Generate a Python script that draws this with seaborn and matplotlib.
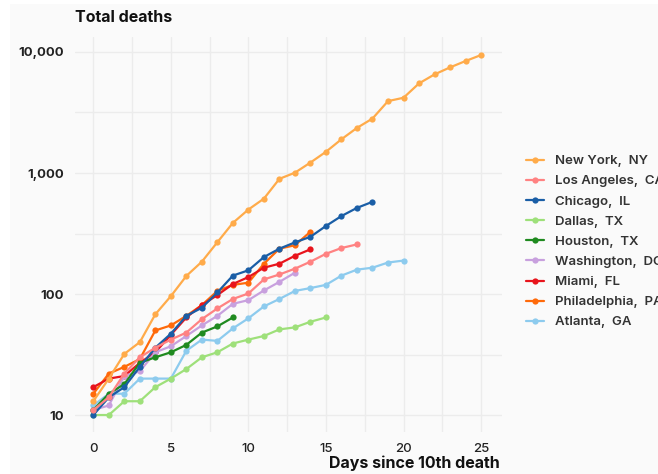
import numpy as np
import pandas as pd
import seaborn as sns
import matplotlib.pyplot as plt
from matplotlib.patches import Rectangle
from matplotlib.ticker import FixedLocator, FuncFormatter

# values (deaths by day since 10th death)
new_york = [13, 20, 32, 40, 68, 96, 141, 185, 268, 387, 499, 614, 895, 1006, 1220,
            1497, 1901, 2359, 2818, 3926, 4186, 5500, 6530, 7460, 8420, 9440]
los_angeles = [11, 14, 22, 30, 36, 42, 48, 62, 76, 91, 101, 132, 145, 162, 185, 215, 240, 257]
chicago = [10, 14, 17, 25, 36, 47, 66, 77, 103, 142, 157, 202, 237, 267, 297, 365, 441, 515, 578]
dallas = [10, 10, 13, 13, 17, 20, 24, 30, 33, 39, 42, 45, 51, 53, 59, 64]
houston = [11, 15, 18, 27, 30, 33, 38, 48, 54, 64]
washington = [11, 12, 21, 23, 33, 37, 45, 55, 66, 83, 89, 107, 126, 150]
miami = [17, 20, 21, 27, 33, 46, 64, 81, 98, 121, 138, 165, 178, 207, 234]
philadelphia = [15, 22, 25, 29, 50, 55, 66, 81, 106, 119, 124, 178, 237, 253, 327]
atlanta = [12, 15, 15, 20, 20, 20, 34, 42, 41, 52, 63, 79, 91, 106, 112, 119, 142, 159, 165, 182, 189]

cities = ["New York,  NY", "Los Angeles,  CA", "Chicago,  IL", "Dallas,  TX", "Houston,  TX",
          "Washington,  DC", "Miami,  FL", "Philadelphia,  PA", "Atlanta,  GA"]
series = [new_york, los_angeles, chicago, dallas, houston, washington, miami, philadelphia, atlanta]
colors = ["#ffab4a", "#ff8282", "#1a5ea6", "#9ee07a", "#1f8a1f",
          "#c8a0de", "#e8141c", "#ff6a0a", "#8dcbee"]

rows = []
for city, vals in zip(cities, series):
    for day, v in enumerate(vals):
        rows.append({"city": city, "day": day, "deaths": v})
df = pd.DataFrame(rows)

sns.set_theme(style="whitegrid")
plt.rcParams['font.family'] = ['Inter', 'DejaVu Sans']

fig = plt.figure(figsize=(6.58, 4.74), dpi=100, facecolor="white")
# light grey card with a thin white margin at top/left, like the screenshot
fig.patches.append(Rectangle((10 / 658, 0), 1, 1 - 4 / 474, transform=fig.transFigure,
                             facecolor="#fafafa", edgecolor="none", zorder=-10))
ax = fig.add_axes([75 / 658, 42 / 474, 427 / 658, 395 / 474])
ax.set_facecolor("#fafafa")

# draw in reverse so the first cities end up on top
for city, col in reversed(list(zip(cities, colors))):
    sub = df[df["city"] == city]
    sns.lineplot(data=sub, x="day", y="deaths", color=col, marker="o",
                 markersize=4.5, markeredgewidth=0, linewidth=1.6,
                 label=city, ax=ax, legend=False)

ax.set_yscale("log")
ax.set_ylim(7.24, 13300)
ax.set_xlim(-1.18, 26.35)

ax.set_xticks([0, 5, 10, 15, 20, 25])
ax.xaxis.set_minor_locator(FixedLocator([2.5, 7.5, 12.5, 17.5, 22.5]))
ax.yaxis.set_major_locator(FixedLocator([10, 100, 1000, 10000]))
ax.yaxis.set_minor_locator(FixedLocator([10 ** 1.5, 10 ** 2.5, 10 ** 3.5]))
ax.yaxis.set_major_formatter(FuncFormatter(lambda v, p: f"{int(v):,}"))
ax.yaxis.set_minor_formatter(FuncFormatter(lambda v, p: ""))

ax.grid(True, which="both", color="#ececec", linewidth=1)
ax.tick_params(which="both", length=0)
ax.tick_params(axis="y", pad=8, labelsize=9.5, labelcolor="#222222")
ax.tick_params(axis="x", pad=8, labelsize=9.5, labelcolor="#222222")
for lab in ax.get_yticklabels():
    lab.set_fontweight("bold")
for lab in ax.get_xticklabels():
    lab.set_fontweight("medium")
for s in ax.spines.values():
    s.set_visible(False)

ax.set_xlabel("")
ax.set_ylabel("")
fig.text(75 / 658, 1 - 18 / 474, "Total deaths", ha="left", va="center",
         fontsize=11.5, fontweight="bold", color="#111111")
fig.text(500 / 658, 1 - 463 / 474, "Days since 10th death", ha="right", va="center",
         fontsize=11.5, fontweight="bold", color="#111111")

handles, labels = ax.get_legend_handles_labels()
order = [labels.index(c) for c in cities]
leg = fig.legend([handles[i] for i in order], cities, loc="upper left",
                 bbox_to_anchor=(526 / 658, 1 - 155 / 474), frameon=False,
                 borderpad=0, borderaxespad=0, handlelength=1.4, handletextpad=0.8,
                 labelspacing=0.6, prop={"size": 9.5, "weight": "semibold"})
for t in leg.get_texts():
    t.set_color("#333333")

fig.savefig("out.png", dpi=100, facecolor=fig.get_facecolor())
